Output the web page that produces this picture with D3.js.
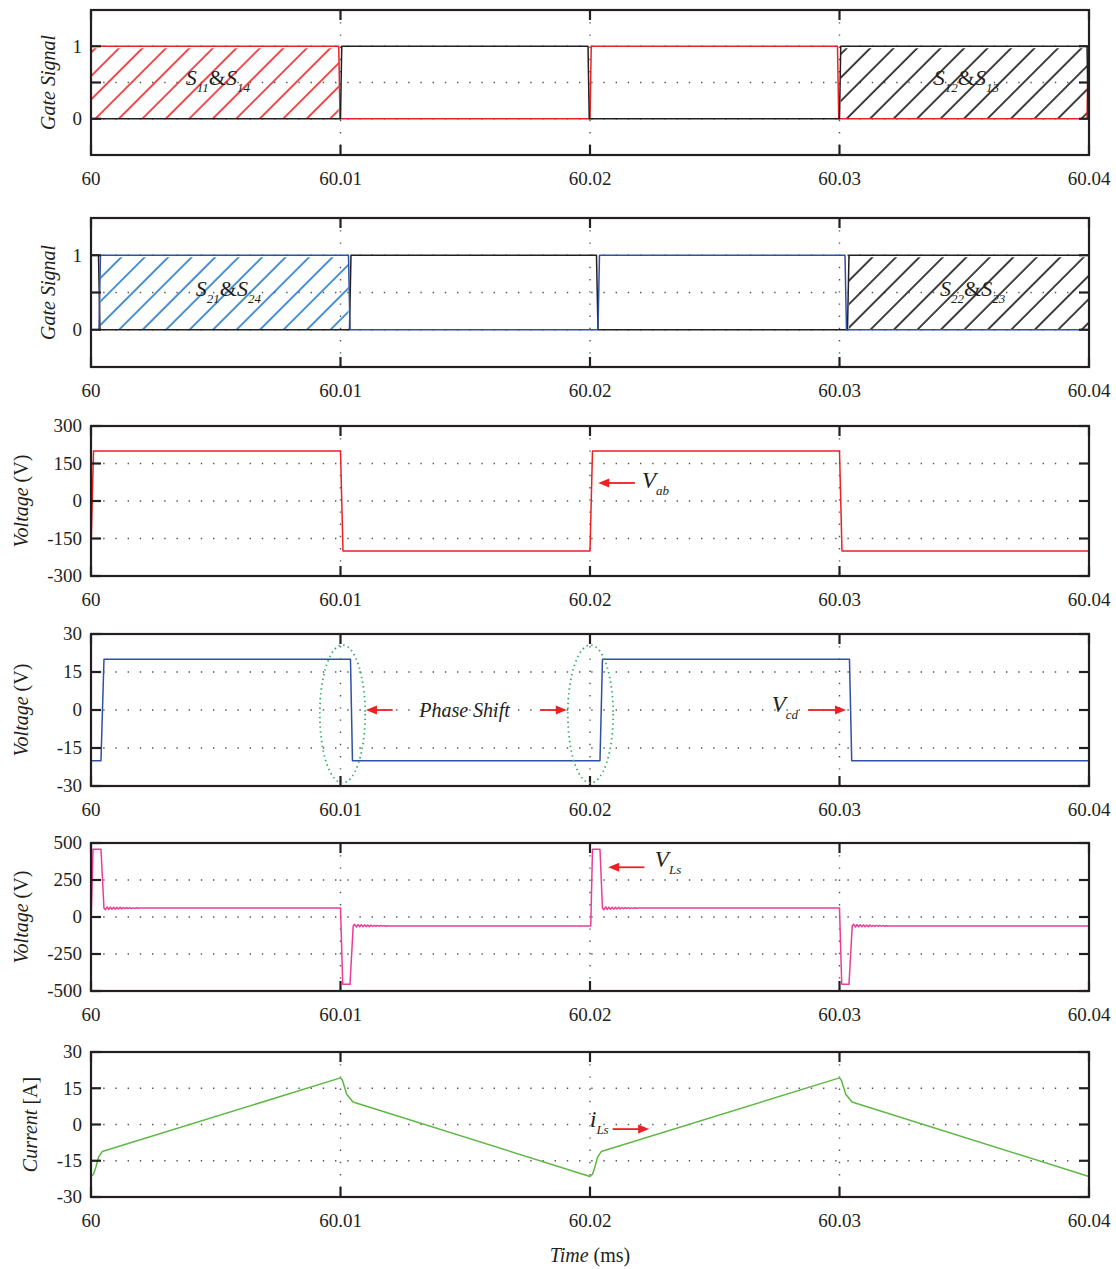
<!DOCTYPE html>
<html>
<head>
<meta charset="utf-8">
<script src="https://cdn.jsdelivr.net/npm/d3@7"></script>
<style>
  body { margin: 0; background: #fff; }
  svg { display: block; }
  text { font-family: "Liberation Serif", "Times New Roman", serif; fill: #231f20; }
</style>
</head>
<body>
<div id="chart"></div>
<script>
// ---- time axis (ms) ----
const timeTicks = [60, 60.01, 60.02, 60.03, 60.04];
const timeTickLabels = ["60", "60.01", "60.02", "60.03", "60.04"];

// ---- gate signals, leg 1 ----
const s1114T = [60, 60.00993, 60.00998, 60.02, 60.02005, 60.02992, 60.02997, 60.03992, 60.03997, 60.04];
const s1114V = [1, 1, 0, 0, 1, 1, 0, 0, 1, 1];
const s1213T = [60, 60.01, 60.01005, 60.01992, 60.01997, 60.03, 60.03005, 60.03992, 60.03997, 60.04];
const s1213V = [0, 0, 1, 1, 0, 0, 1, 1, 0, 0];

// ---- gate signals, leg 2 ----
const s2124T = [60, 60.00032, 60.00038, 60.01032, 60.01038, 60.02032, 60.02038, 60.03022, 60.03028, 60.04];
const s2124V = [0, 0, 1, 1, 0, 0, 1, 1, 0, 0];
const s2223T = [60, 60.0003, 60.00036, 60.01036, 60.01042, 60.02026, 60.02032, 60.03032, 60.03038, 60.04];
const s2223V = [1, 1, 0, 0, 1, 1, 0, 0, 1, 1];

// ---- voltages ----
const vabT = [60, 60.0001, 60.01, 60.0101, 60.02, 60.0201, 60.03, 60.0301, 60.04];
const vabV = [-200, 200, 200, -200, -200, 200, 200, -200, -200];

const vcdT = [60, 60.0004, 60.00052, 60.0104, 60.01048, 60.0204, 60.0205, 60.0304, 60.03049, 60.04];
const vcdV = [-20, -20, 20, 20, -20, -20, 20, 20, -20, -20];

// inductor voltage: pulse corners, then ringing
const vlsT = [60, 60.00008, 60.0004, 60.00052, 60.01, 60.01009, 60.01038, 60.01051, 60.02003, 60.0201, 60.0204, 60.0205, 60.03, 60.03009, 60.03038, 60.03051, 60.04];
const vlsV = [-60, 458, 458, 60, 60, -455, -455, -60, -60, 458, 458, 60, 60, -455, -455, -60, -60];
const ringStart = [60.00052, 60.01051, 60.0205, 60.03051];
const ringSign = [1, -1, 1, -1];
const ringDt = [0, 0.00006, 0.00013, 0.00019, 0.00026, 0.00032, 0.00039, 0.00045, 0.00052, 0.00058, 0.00065, 0.00071, 0.00078, 0.00084, 0.00091, 0.00097, 0.00104, 0.0011, 0.00117, 0.00123, 0.0013, 0.00136, 0.00143, 0.0015];
const ringDv = [0, -10, 8, -9, 7, -8, 6, -7, 6, -6, 5, -5, 4, -4, 4, -3, 3, -3, 2, -2, 2, -1, 1, 0];

// ---- inductor current ----
const ilsT = [60, 60.0001, 60.0002, 60.0003, 60.00045, 60.01, 60.01008, 60.01025, 60.0105, 60.02, 60.0201, 60.0202, 60.0203, 60.02045, 60.03, 60.03008, 60.03025, 60.0305, 60.04];
const ilsV = [-21.5, -20.6, -17.5, -13.6, -11.2, 19.3, 18.2, 12.5, 9.3, -21.5, -20.6, -17.5, -13.6, -11.2, 19.3, 18.2, 12.5, 9.3, -21.5];

// ---- y ticks ----
const gateTicks = [0, 0.5, 1];
const gateTickLabels = ["0", "", "1"];
const vabTicks = [-300, -150, 0, 150, 300];
const vabTickLabels = ["-300", "-150", "0", "150", "300"];
const vcdTicks = [-30, -15, 0, 15, 30];
const vcdTickLabels = ["-30", "-15", "0", "15", "30"];
const vlsTicks = [-500, -250, 0, 250, 500];
const vlsTickLabels = ["-500", "-250", "0", "250", "500"];
const ilsTicks = [-30, -15, 0, 15, 30];
const ilsTickLabels = ["-30", "-15", "0", "15", "30"];

const RED = "#ed2024", BLUE = "#3050a4", HATCHBLUE = "#1f78c8", PINK = "#ec3d96", GREEN = "#5db843", BLACK = "#231f20";

const W = 1116, H = 1269, X0 = 91, X1 = 1089;
const svg = d3.select("#chart").append("svg").attr("width", W).attr("height", H);
const defs = svg.append("defs");

const x = d3.scaleLinear().domain([60, 60.04]).range([X0, X1]);
const zip = (t, v) => t.map((d, i) => [d, v[i]]);

function hatchPattern(id, color){
    const p = defs.append("pattern").attr("id", id)
        .attr("patternUnits", "userSpaceOnUse")
        .attr("width", 16.6).attr("height", 16.6)
        .attr("patternTransform", "rotate(45)");
    p.append("line").attr("x1", 2).attr("y1", 0).attr("x2", 2).attr("y2", 16.6)
        .attr("stroke", color).attr("stroke-width", 1.6);
}
hatchPattern("hRed", RED);
hatchPattern("hBlue", HATCHBLUE);
hatchPattern("hBlack", "#111");

function panel(cfg){
    const y = d3.scaleLinear().domain(cfg.domain).range([cfg.bottom, cfg.top]);
    const g = svg.append("g");

    // dotted grid
    timeTicks.slice(1, -1).forEach(t => {
        g.append("line").attr("x1", x(t)).attr("x2", x(t)).attr("y1", cfg.top).attr("y2", cfg.bottom)
            .attr("stroke", "#555").attr("stroke-width", 1.4).attr("stroke-dasharray", "1.4,10.8");
    });
    cfg.ticks.forEach(v => {
        if (v <= cfg.domain[0] || v >= cfg.domain[1]) return;
        g.append("line").attr("x1", X0).attr("x2", X1).attr("y1", y(v)).attr("y2", y(v))
            .attr("stroke", "#555").attr("stroke-width", 1.4).attr("stroke-dasharray", "1.4,10.8");
    });

    (cfg.hatch || []).forEach(h => {
        g.append("rect").attr("x", x(h.from)).attr("width", x(h.to) - x(h.from))
            .attr("y", y(1) + 2).attr("height", y(0) - y(1) - 2)
            .attr("fill", "url(#" + h.pattern + ")");
    });

    const line = d3.line().x(d => x(d[0])).y(d => y(d[1]));
    cfg.series.forEach(s => {
        g.append("path").datum(s.data).attr("d", line)
            .attr("fill", "none").attr("stroke", s.color).attr("stroke-width", s.width || 1.5)
            .attr("stroke-linejoin", "round");
    });

    // frame
    g.append("rect").attr("x", X0).attr("y", cfg.top).attr("width", X1 - X0).attr("height", cfg.bottom - cfg.top)
        .attr("fill", "none").attr("stroke", BLACK).attr("stroke-width", 2.2);

    // inward ticks
    timeTicks.forEach(t => {
        g.append("line").attr("x1", x(t)).attr("x2", x(t)).attr("y1", cfg.bottom).attr("y2", cfg.bottom - 10)
            .attr("stroke", BLACK).attr("stroke-width", 2.2);
        g.append("line").attr("x1", x(t)).attr("x2", x(t)).attr("y1", cfg.top).attr("y2", cfg.top + 10)
            .attr("stroke", BLACK).attr("stroke-width", 2.2);
    });
    cfg.ticks.forEach((v, i) => {
        g.append("line").attr("x1", X0).attr("x2", X0 + 10).attr("y1", y(v)).attr("y2", y(v))
            .attr("stroke", BLACK).attr("stroke-width", 2.2);
        g.append("line").attr("x1", X1).attr("x2", X1 - 10).attr("y1", y(v)).attr("y2", y(v))
            .attr("stroke", BLACK).attr("stroke-width", 2.2);
        if (cfg.tickLabels[i])
            g.append("text").attr("x", 82).attr("y", y(v)).attr("dy", "0.34em")
                .attr("text-anchor", "end").style("font-size", "19px").text(cfg.tickLabels[i]);
    });
    timeTicks.forEach((t, i) => {
        g.append("text").attr("x", x(t)).attr("y", cfg.bottom + 30)
            .attr("text-anchor", "middle").style("font-size", "19px").text(timeTickLabels[i]);
    });

    // y title
    const tt = g.append("text")
        .attr("transform", "translate(" + cfg.titleX + "," + (cfg.top + cfg.bottom) / 2 + ") rotate(-90)")
        .attr("text-anchor", "middle").style("font-size", "20px");
    cfg.title.forEach(p => tt.append("tspan").style("font-style", p[1] ? "italic" : "normal").text(p[0]));

    cfg.y = y; cfg.g = g;
    return cfg;
}

// label with subscripts: parts = [text, isSub, italic]
function subLabel(g, px, py, parts, size, subSize){
    const t = g.append("text").attr("x", px).attr("y", py).style("font-size", size + "px");
    let shifted = false;
    parts.forEach(p => {
        const sp = t.append("tspan").text(p[0]).style("font-style", p[2] ? "italic" : "normal");
        if (p[1] && !shifted){ sp.attr("dy", 7).style("font-size", subSize + "px"); shifted = true; }
        else if (p[1]) { sp.style("font-size", subSize + "px"); }
        else if (shifted){ sp.attr("dy", -7); shifted = false; }
    });
}

function arrow(g, xTail, xTip, py){
    const dir = Math.sign(xTip - xTail);
    g.append("line").attr("x1", xTail).attr("x2", xTip - dir * 8).attr("y1", py).attr("y2", py)
        .attr("stroke", RED).attr("stroke-width", 1.8);
    g.append("path").attr("d", "M" + xTip + "," + py + "L" + (xTip - dir * 11) + "," + (py - 4.5) + "L" + (xTip - dir * 11) + "," + (py + 4.5) + "Z")
        .attr("fill", RED);
}

const gate = ["Gate Signal", true];

const p1 = panel({top: 10, bottom: 155, domain: [-0.5, 1.5], ticks: gateTicks, tickLabels: gateTickLabels,
    title: [gate], titleX: 55,
    hatch: [{from: 60, to: 60.00993, pattern: "hRed"}, {from: 60.03005, to: 60.03992, pattern: "hBlack"}],
    series: [{data: zip(s1114T, s1114V), color: RED}, {data: zip(s1213T, s1213V), color: BLACK}]});

const p2 = panel({top: 218, bottom: 367, domain: [-0.5, 1.5], ticks: gateTicks, tickLabels: gateTickLabels,
    title: [gate], titleX: 55,
    hatch: [{from: 60.00038, to: 60.01032, pattern: "hBlue"}, {from: 60.03038, to: 60.04, pattern: "hBlack"}],
    series: [{data: zip(s2223T, s2223V), color: BLACK}, {data: zip(s2124T, s2124V), color: BLUE}]});

const p3 = panel({top: 426, bottom: 576, domain: [-300, 300], ticks: vabTicks, tickLabels: vabTickLabels,
    title: [["Voltage", true], [" (V)", false]], titleX: 28,
    series: [{data: zip(vabT, vabV), color: RED}]});

const p4 = panel({top: 634, bottom: 786, domain: [-30, 30], ticks: vcdTicks, tickLabels: vcdTickLabels,
    title: [["Voltage", true], [" (V)", false]], titleX: 28,
    series: [{data: zip(vcdT, vcdV), color: BLUE}]});

// build the inductor-voltage trace from corners plus the ringing after each edge
let vls = zip(vlsT, vlsV);
ringStart.forEach((t0, k) => {
    const base = 60 * ringSign[k];
    ringDt.forEach((dt, i) => vls.push([t0 + dt, base + ringSign[k] * ringDv[i]]));
});
vls.sort((a, b) => a[0] - b[0]);

const p5 = panel({top: 843, bottom: 991, domain: [-500, 500], ticks: vlsTicks, tickLabels: vlsTickLabels,
    title: [["Voltage", true], [" (V)", false]], titleX: 28,
    series: [{data: vls, color: PINK}]});

const p6 = panel({top: 1052, bottom: 1197, domain: [-30, 30], ticks: ilsTicks, tickLabels: ilsTickLabels,
    title: [["Current", true], [" [A]", false]], titleX: 37,
    series: [{data: zip(ilsT, ilsV), color: GREEN}]});

// ---- annotations ----
subLabel(p1.g, x(60.0038), p1.y(0.47), [["S", false, true], ["11", true, true], ["&", false, false], ["S", false, true], ["14", true, true]], 22, 13);
subLabel(p1.g, x(60.03378), p1.y(0.47), [["S", false, true], ["12", true, true], ["&", false, false], ["S", false, true], ["13", true, true]], 22, 13);
subLabel(p2.g, x(60.0042), p2.y(0.45), [["S", false, true], ["21", true, true], ["&", false, false], ["S", false, true], ["24", true, true]], 22, 13);
subLabel(p2.g, x(60.03403), p2.y(0.45), [["S", false, true], ["22", true, true], ["&", false, false], ["S", false, true], ["23", true, true]], 22, 13);

arrow(p3.g, x(60.0218), x(60.02033), p3.y(72));
subLabel(p3.g, x(60.02208), p3.y(52), [["V", false, true], ["ab", true, true]], 23, 13);

arrow(p4.g, x(60.01209), x(60.01102), p4.y(0));
arrow(p4.g, x(60.018), x(60.01907), p4.y(0));
p4.g.append("text").attr("x", x(60.01497)).attr("y", p4.y(-2.6)).attr("text-anchor", "middle")
    .style("font-size", "20px").style("font-style", "italic").text("Phase Shift");
[60.01008, 60.02002].forEach(t => {
    p4.g.append("ellipse").attr("cx", x(t)).attr("cy", p4.y(-1.6)).attr("rx", 22.7).attr("ry", 69)
        .attr("fill", "none").attr("stroke", "#2fb35e").attr("stroke-width", 1.8).attr("stroke-dasharray", "1.4,3.4");
});
arrow(p4.g, x(60.02874), x(60.03026), p4.y(0));
subLabel(p4.g, x(60.02728), p4.y(-0.7), [["V", false, true], ["cd", true, true]], 23, 13);

arrow(p5.g, x(60.02218), x(60.02073), p5.y(336));
subLabel(p5.g, x(60.0226), p5.y(340), [["V", false, true], ["Ls", true, true]], 23, 13);

arrow(p6.g, x(60.02091), x(60.02237), p6.y(-1.9));
subLabel(p6.g, x(60.02), p6.y(-0.9), [["i", false, true], ["Ls", true, true]], 23, 13);

// x title
const xt = svg.append("text").attr("x", 590).attr("y", 1262).attr("text-anchor", "middle").style("font-size", "20px");
xt.append("tspan").style("font-style", "italic").text("Time");
xt.append("tspan").text(" (ms)");
</script>
</body>
</html>
